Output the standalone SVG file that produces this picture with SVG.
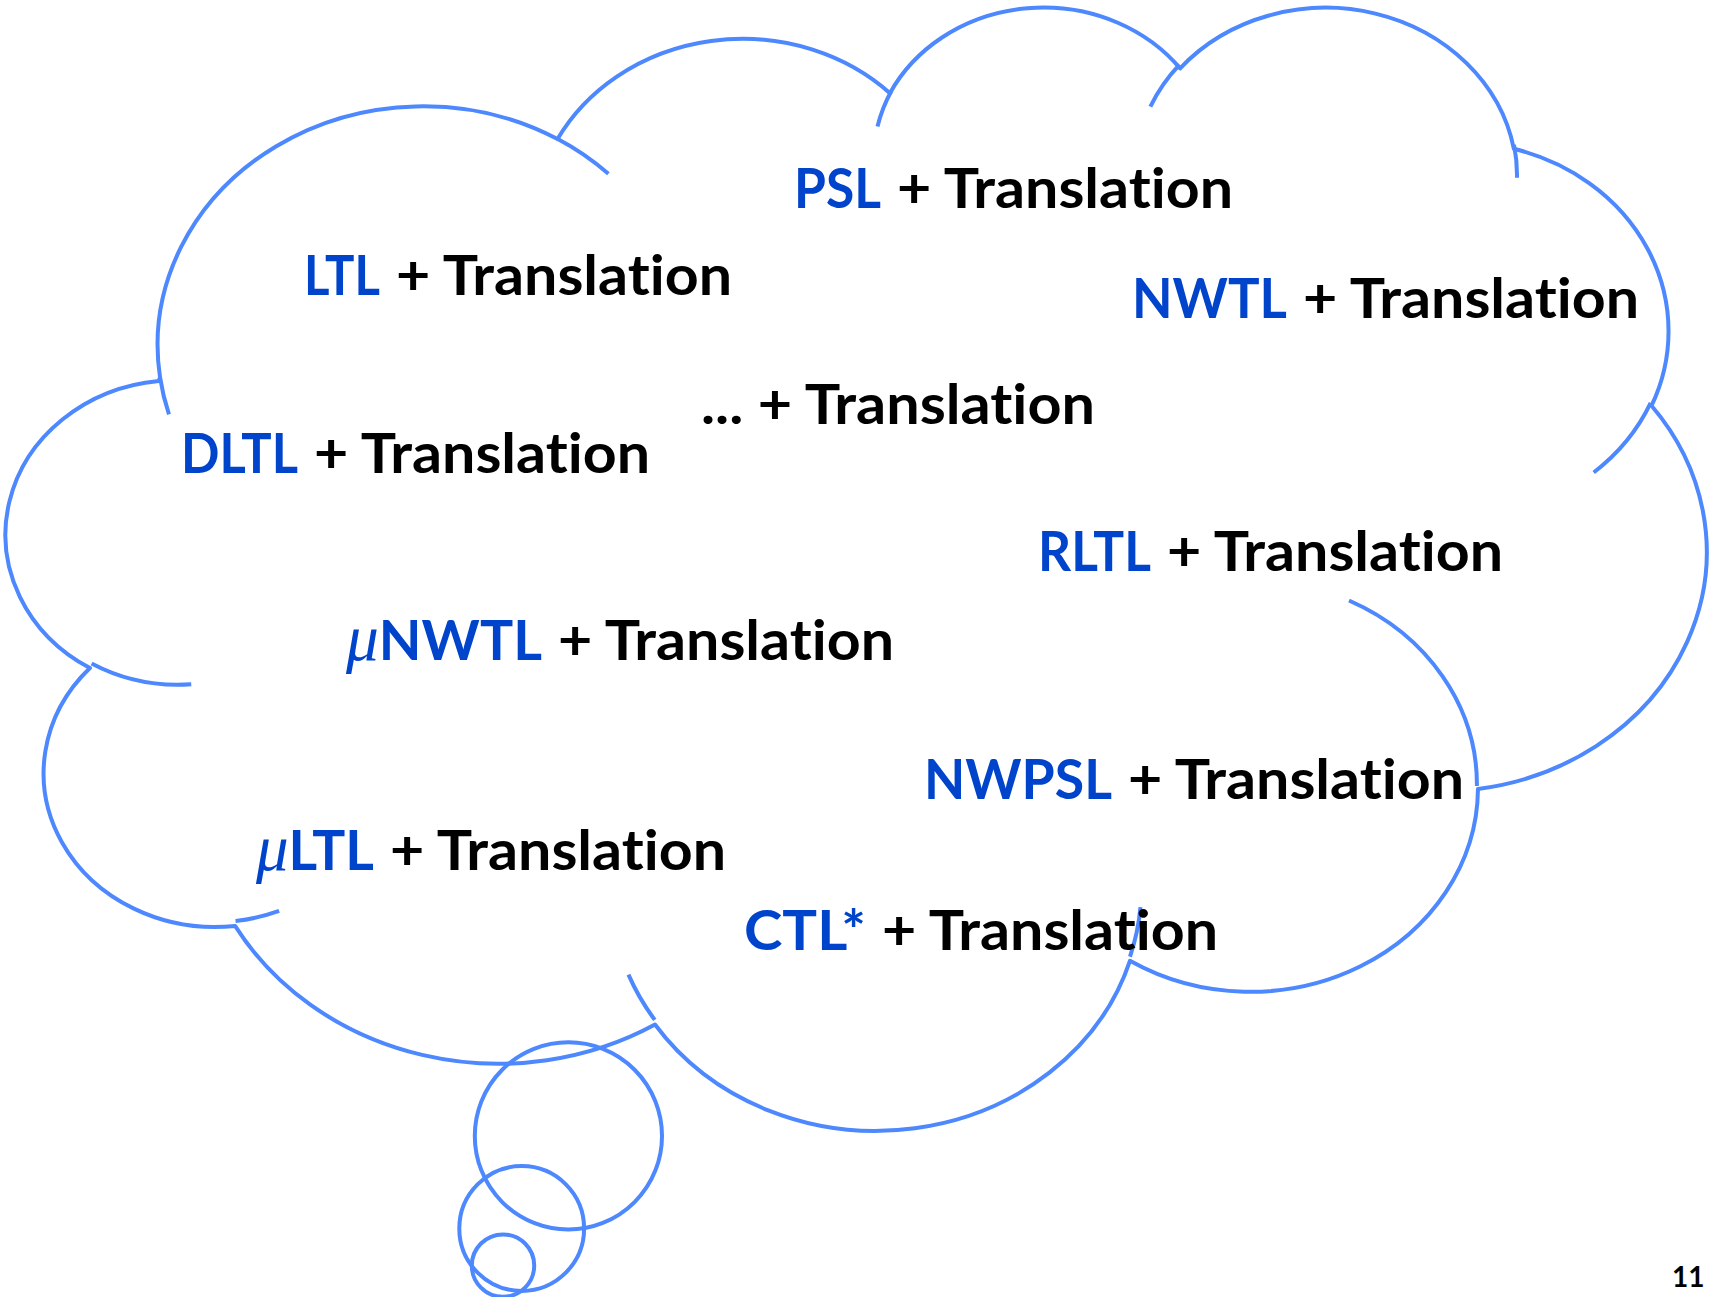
<svg xmlns="http://www.w3.org/2000/svg" width="1710" height="1297" viewBox="0 0 1710 1297">
<style>
.ol { fill: none; stroke: #4D88FF; stroke-width: 4; vector-effect: non-scaling-stroke; stroke-linejoin: round; }
.bub { fill: none; stroke: #4D88FF; stroke-width: 4; }
text { font-variant-ligatures: none; }
.lbl { font-family: Lato, "Open Sans", sans-serif; font-weight: bold; font-size: 56px; fill: #000000; }
.b { fill: #0044CC; }
.mu { font-family: "Liberation Serif", "DejaVu Serif", serif; font-style: italic; font-weight: normal; font-size: 66px; }
.pg { font-family: Lato, "Open Sans", sans-serif; font-weight: bold; font-size: 28px; fill: #000000; }
</style>
<rect x="0" y="0" width="1710" height="1297" fill="#FFFFFF"/>
<g id="cloud" transform="translate(6.65 3.86) scale(0.039332 0.025993)">
<path class="ol" d="M 3900 14370 A 6753 9190 0 0 1 14006 5202.7 A 5333 7267 0 0 1 22458.2 3434.6 A 4365 5945 0 0 1 29834.9 2481.1 A 4857 6595 0 0 1 38320.5 5575.7 A 5333 7273 0 0 1 41820.9 15459.8 A 6775 9220 0 0 1 37407.7 30204.7 A 5785 7867 0 0 1 28559.3 36814.9 A 6752 9215 0 0 1 16484.7 39268.1 A 7720 10543 0 0 1 5808.2 35473.6 A 4360 5918 0 0 1 2117.8 25550.5 A 4345 5945 0 0 1 3868.5 14507.4 Z"/>
<path class="ol" d="M 4693 26177 A 4345 5945 0 0 1 2159.2 25379.5 M 6928 34899 A 4360 5918 0 0 1 5819.5 35280.5 M 16478 39090 A 6752 9215 0 0 1 15809.2 37347.7 M 28827 34751 A 6752 9215 0 0 1 28560.4 36659.8 M 34129 22954 A 5785 7867 0 0 1 37380.4 30089.6 M 41798 15354 A 5333 7273 0 0 1 40349.9 18029.9 M 38324 5426 A 4857 6595 0 0 1 38400.4 6689.6 M 29078 3952 A 4857 6595 0 0 1 29819.5 2340.2 M 22141 4720 A 4365 5945 0 0 1 22499.8 3331.2 M 14000 5192 A 6753 9190 0 0 1 15299.3 6540.1 M 4127 15789 A 6753 9190 0 0 1 3900 14370"/>
</g>
<g id="bubbles">
<circle class="bub" cx="568.4" cy="1135.9" r="93.6"/>
<circle class="bub" cx="521.7" cy="1228.5" r="62.4"/>
<circle class="bub" cx="503" cy="1265.6" r="31.2"/>
</g>
<g id="psl">
<text class="lbl b" x="794" y="208" textLength="87" lengthAdjust="spacingAndGlyphs">PSL</text>
<text class="lbl" x="897" y="208" textLength="336" lengthAdjust="spacingAndGlyphs">+ Translation</text>
</g>
<g id="ltl">
<text class="lbl b" x="304" y="295" textLength="76" lengthAdjust="spacingAndGlyphs">LTL</text>
<text class="lbl" x="396" y="295" textLength="336" lengthAdjust="spacingAndGlyphs">+ Translation</text>
</g>
<g id="nwtl">
<text class="lbl b" x="1132" y="318" textLength="155" lengthAdjust="spacingAndGlyphs">NWTL</text>
<text class="lbl" x="1303" y="318" textLength="336" lengthAdjust="spacingAndGlyphs">+ Translation</text>
</g>
<g id="etc">
<text class="lbl" x="701" y="423.5" textLength="394" lengthAdjust="spacingAndGlyphs">... + Translation</text>
</g>
<g id="dltl">
<text class="lbl b" x="181" y="472.5" textLength="117" lengthAdjust="spacingAndGlyphs">DLTL</text>
<text class="lbl" x="314" y="472.5" textLength="336" lengthAdjust="spacingAndGlyphs">+ Translation</text>
</g>
<g id="rltl">
<text class="lbl b" x="1038" y="571" textLength="113" lengthAdjust="spacingAndGlyphs">RLTL</text>
<text class="lbl" x="1167" y="571" textLength="336" lengthAdjust="spacingAndGlyphs">+ Translation</text>
</g>
<g id="munwtl">
<text class="lbl b" x="346" y="659.5" textLength="196" lengthAdjust="spacingAndGlyphs"><tspan class="mu">μ</tspan>NWTL</text>
<text class="lbl" x="558" y="659.5" textLength="336" lengthAdjust="spacingAndGlyphs">+ Translation</text>
</g>
<g id="nwpsl">
<text class="lbl b" x="924" y="798.5" textLength="188" lengthAdjust="spacingAndGlyphs">NWPSL</text>
<text class="lbl" x="1128" y="798.5" textLength="336" lengthAdjust="spacingAndGlyphs">+ Translation</text>
</g>
<g id="multl">
<text class="lbl b" x="256" y="870" textLength="118" lengthAdjust="spacingAndGlyphs"><tspan class="mu">μ</tspan>LTL</text>
<text class="lbl" x="390" y="870" textLength="336" lengthAdjust="spacingAndGlyphs">+ Translation</text>
</g>
<g id="ctl">
<text class="lbl b" x="744" y="949.5" textLength="122" lengthAdjust="spacingAndGlyphs">CTL*</text>
<text class="lbl" x="882" y="949.5" textLength="336" lengthAdjust="spacingAndGlyphs">+ Translation</text>
</g>
<g id="page"><text class="pg" x="1672" y="1287">11</text></g>
</svg>
